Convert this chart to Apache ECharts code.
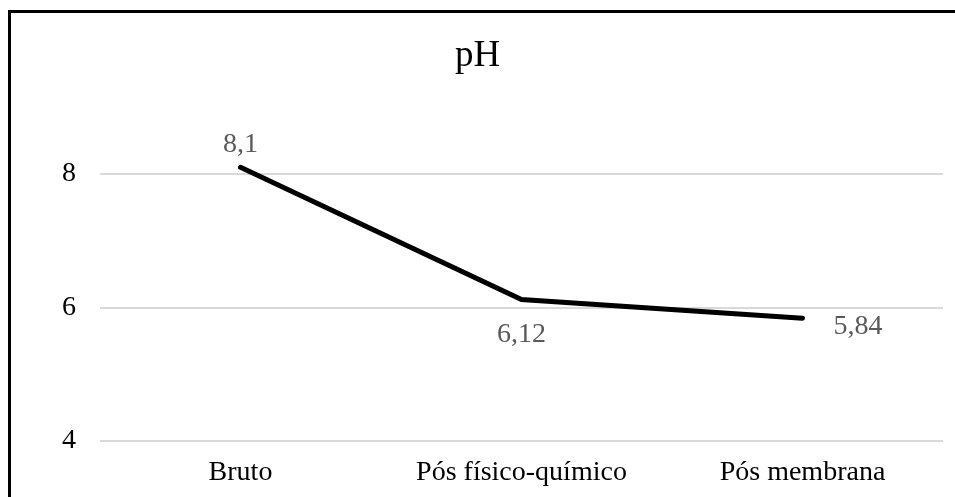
<!DOCTYPE html>
<html>
<head>
<meta charset="utf-8">
<script src="https://cdn.jsdelivr.net/npm/echarts@6/dist/echarts.min.js"></script>
<style>
  html, body { margin: 0; padding: 0; background: #fff; overflow: hidden; width: 955px; height: 497px; }
  #frame {
    position: absolute; left: 8px; top: 10px; width: 1000px; height: 520px;
    border-left: 3.5px solid #000; border-top: 3.5px solid #000;
  }
  #chart { position: absolute; left: 0; top: 0; width: 955px; height: 497px; }
</style>
</head>
<body>
<div id="frame"></div>
<div id="chart"></div>
<script>
// pH at each treatment stage
const categories = ['Bruto', 'Pós físico-químico', 'Pós membrana'];
const phValues = [8.1, 6.12, 5.84];
const labelPositions = ['top', 'bottom', 'right'];
const labelOffsets = [[0, 6], [0, 6], [16, 8]];

const serif = '"Liberation Serif", "Times New Roman", serif';
const fmt = v => String(v).replace('.', ',');

const chart = echarts.init(document.getElementById('chart'));
chart.setOption({
  animation: false,
  backgroundColor: 'transparent',
  title: {
    text: 'pH',
    left: 'center',
    top: 33,
    textStyle: { fontFamily: serif, fontSize: 37, fontWeight: 'normal', color: '#000' }
  },
  grid: { left: 100, right: 12, top: 40.5, bottom: 56 },
  xAxis: {
    type: 'category',
    data: categories,
    boundaryGap: true,
    axisLine: { show: false },
    axisTick: { show: false },
    axisLabel: { fontFamily: serif, fontSize: 28, color: '#000', margin: 18 }
  },
  yAxis: {
    type: 'value',
    min: 4,
    max: 10,
    interval: 2,
    axisLine: { show: false },
    axisTick: { show: false },
    axisLabel: { fontFamily: serif, fontSize: 28, color: '#000', margin: 24, showMaxLabel: false },
    splitLine: { show: true, showMaxLine: false, lineStyle: { color: '#d9d9d9', width: 2 } }
  },
  series: [{
    type: 'line',
    data: phValues.map((v, i) => ({
      value: v,
      label: { position: labelPositions[i], offset: labelOffsets[i] }
    })),
    symbol: 'circle',
    symbolSize: 2,
    showSymbol: true,
    itemStyle: { color: 'rgba(0,0,0,0)' },
    lineStyle: { color: '#000', width: 5, cap: 'round', join: 'miter' },
    label: {
      show: true,
      formatter: p => fmt(p.value),
      fontFamily: serif,
      fontSize: 28,
      color: '#595959',
      distance: 14
    }
  }]
});
</script>
</body>
</html>
